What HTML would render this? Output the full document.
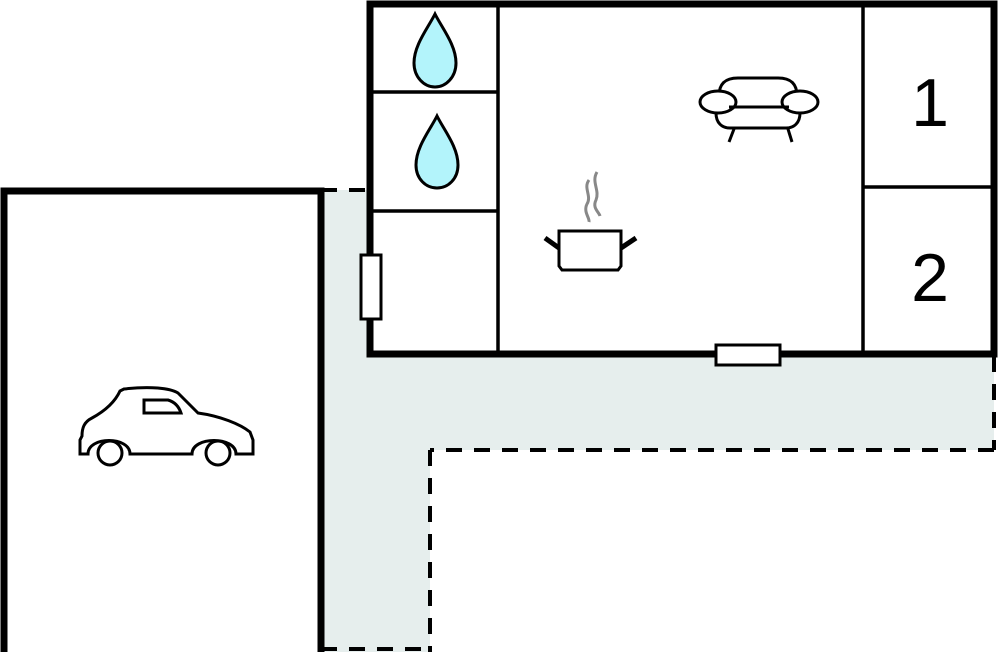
<!DOCTYPE html>
<html><head><style>html,body{margin:0;padding:0;background:#fff}svg{display:block}</style></head>
<body>
<svg width="998" height="652" viewBox="0 0 998 652" xmlns="http://www.w3.org/2000/svg">
<path d="M321 190 H370 V354 H994 V450 H430 V652 H321 Z" fill="#e6eeed"/>
<g stroke="#000" stroke-width="4" fill="none" stroke-dasharray="16 12">
<line x1="321" y1="190" x2="370" y2="190"/>
<line x1="994" y1="356" x2="994" y2="450"/>
<line x1="994" y1="450" x2="430" y2="450"/>
<line x1="430" y1="450" x2="430" y2="652"/>
<line x1="321" y1="649" x2="430" y2="649"/>
</g>
<rect x="4" y="191" width="317" height="470" fill="#fff" stroke="#000" stroke-width="7"/>
<rect x="370" y="4" width="624" height="350" fill="#fff" stroke="#000" stroke-width="7"/>
<g stroke="#000" stroke-width="3.5">
<line x1="498" y1="4" x2="498" y2="354"/>
<line x1="863" y1="4" x2="863" y2="354"/>
<line x1="370" y1="92" x2="498" y2="92"/>
<line x1="370" y1="211" x2="498" y2="211"/>
<line x1="863" y1="187" x2="994" y2="187"/>
</g>
<rect x="361" y="255" width="20" height="64" fill="#fff" stroke="#000" stroke-width="3"/>
<rect x="716" y="345" width="64" height="20" fill="#fff" stroke="#000" stroke-width="3"/>
<g fill="#b3f4fb" stroke="#000" stroke-width="3">
<path d="M435 14 C428 28 414 45 414 63 C414 77 424 87 435 87 C446 87 456 77 456 63 C456 45 442 28 435 14 Z"/>
<path d="M437 116 C430 130 416 147 416 165 C416 179 426 188 437 188 C448 188 458 179 458 165 C458 147 444 130 437 116 Z"/>
</g>
<g fill="none" stroke="#000" stroke-width="3">
<path d="M719 96 C719 84 725 78 738 78 H778 C791 78 797 84 797 96"/>
<ellipse cx="718" cy="102" rx="18" ry="11" fill="#fff"/>
<ellipse cx="800" cy="102" rx="18" ry="11" fill="#fff"/>
<line x1="729" y1="107" x2="789" y2="107"/>
<path d="M716 113 C716 123 722 128 730 128 H786 C794 128 800 123 800 113"/>
<line x1="734" y1="129" x2="729" y2="142"/>
<line x1="788" y1="129" x2="792" y2="142"/>
</g>
<g fill="none">
<path d="M559 231 H621 V266 L618 270 H562 L559 266 Z" stroke="#000" stroke-width="3" fill="#fff"/>
<line x1="545" y1="238" x2="559" y2="248" stroke="#000" stroke-width="5"/>
<line x1="636" y1="238" x2="621" y2="248" stroke="#000" stroke-width="5"/>
<path d="M589 180 C583 188 592 196 587 204 C583 212 590 218 589 222" stroke="#888" stroke-width="3"/>
<path d="M597 172 C591 182 600 190 596 200 C592 208 599 212 600 216" stroke="#888" stroke-width="3"/>
</g>
<g fill="none" stroke="#000" stroke-width="3">
<path d="M80 440 V454 H88 C88 436 130 436 130 454 H192 C192 436 236 436 236 454 H253 V440 L250 432 C240 424 220 416 198 413 L178 393 C170 388 150 386 124 389 L120 391 C114 404 103 412 92 418 C84 422 82 428 82 436 Z" fill="#fff"/>
<circle cx="110" cy="453" r="12"/>
<circle cx="218" cy="453" r="12"/>
<path d="M144 400 H168 C175 402 179 407 181 413 H144 Z"/>
</g>
<g font-family="Liberation Sans, sans-serif" font-size="68" text-anchor="middle" fill="#000">
<text x="930" y="126">1</text>
<text x="930" y="301">2</text>
</g>
</svg>
</body></html>
